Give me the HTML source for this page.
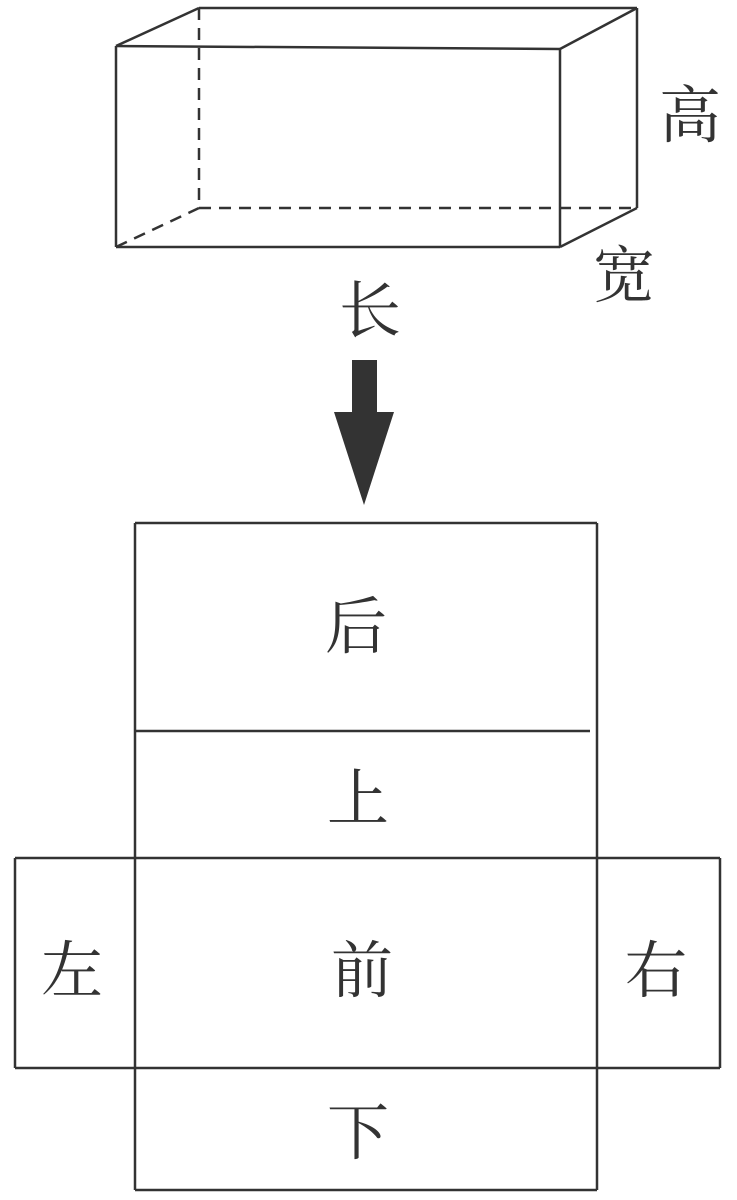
<!DOCTYPE html>
<html><head><meta charset="utf-8"><style>
html,body{margin:0;padding:0;background:#fff;width:737px;height:1200px;overflow:hidden}
svg text{font-family:"Liberation Serif","Noto Serif CJK SC",serif;fill:#333;font-size:62px;text-anchor:middle}
</style></head><body>
<svg width="737" height="1200" viewBox="0 0 737 1200" xmlns="http://www.w3.org/2000/svg">
<g stroke="#333" stroke-width="2.5" fill="none">
<line x1="116" y1="46" x2="560" y2="49"/>
<line x1="116" y1="46" x2="116" y2="247"/>
<line x1="560" y1="49" x2="560" y2="247"/>
<line x1="116" y1="247" x2="560" y2="247"/>
<line x1="116" y1="46" x2="199" y2="8"/>
<line x1="199" y1="8" x2="637" y2="8"/>
<line x1="560" y1="49" x2="637" y2="8"/>
<line x1="637" y1="8" x2="637" y2="208"/>
<line x1="560" y1="247" x2="637" y2="208"/>
<g stroke-dasharray="12,8">
<line x1="199" y1="8" x2="199" y2="208"/>
<line x1="199" y1="208" x2="637" y2="208"/>
<line x1="116" y1="247" x2="199" y2="208"/>
</g>
<line x1="135" y1="523" x2="597" y2="523"/>
<line x1="135" y1="731" x2="590" y2="731"/>
<line x1="15" y1="858" x2="720" y2="858"/>
<line x1="15" y1="1068" x2="720" y2="1068"/>
<line x1="135" y1="1190" x2="597" y2="1190"/>
<line x1="135" y1="523" x2="135" y2="1190"/>
<line x1="597" y1="523" x2="597" y2="1190"/>
<line x1="15" y1="858" x2="15" y2="1068"/>
<line x1="720" y1="858" x2="720" y2="1068"/>
</g>
<polygon points="352,360 377,360 377,412 394,412 364,505 334,412 352,412" fill="#333"/>
<text x="690" y="137">高</text>
<text x="624" y="297">宽</text>
<text x="370" y="332">长</text>
<text x="356" y="648">后</text>
<text x="358" y="820">上</text>
<text x="72" y="992">左</text>
<text x="362" y="992">前</text>
<text x="656" y="992">右</text>
<text x="358" y="1154">下</text>
</svg>
</body></html>
